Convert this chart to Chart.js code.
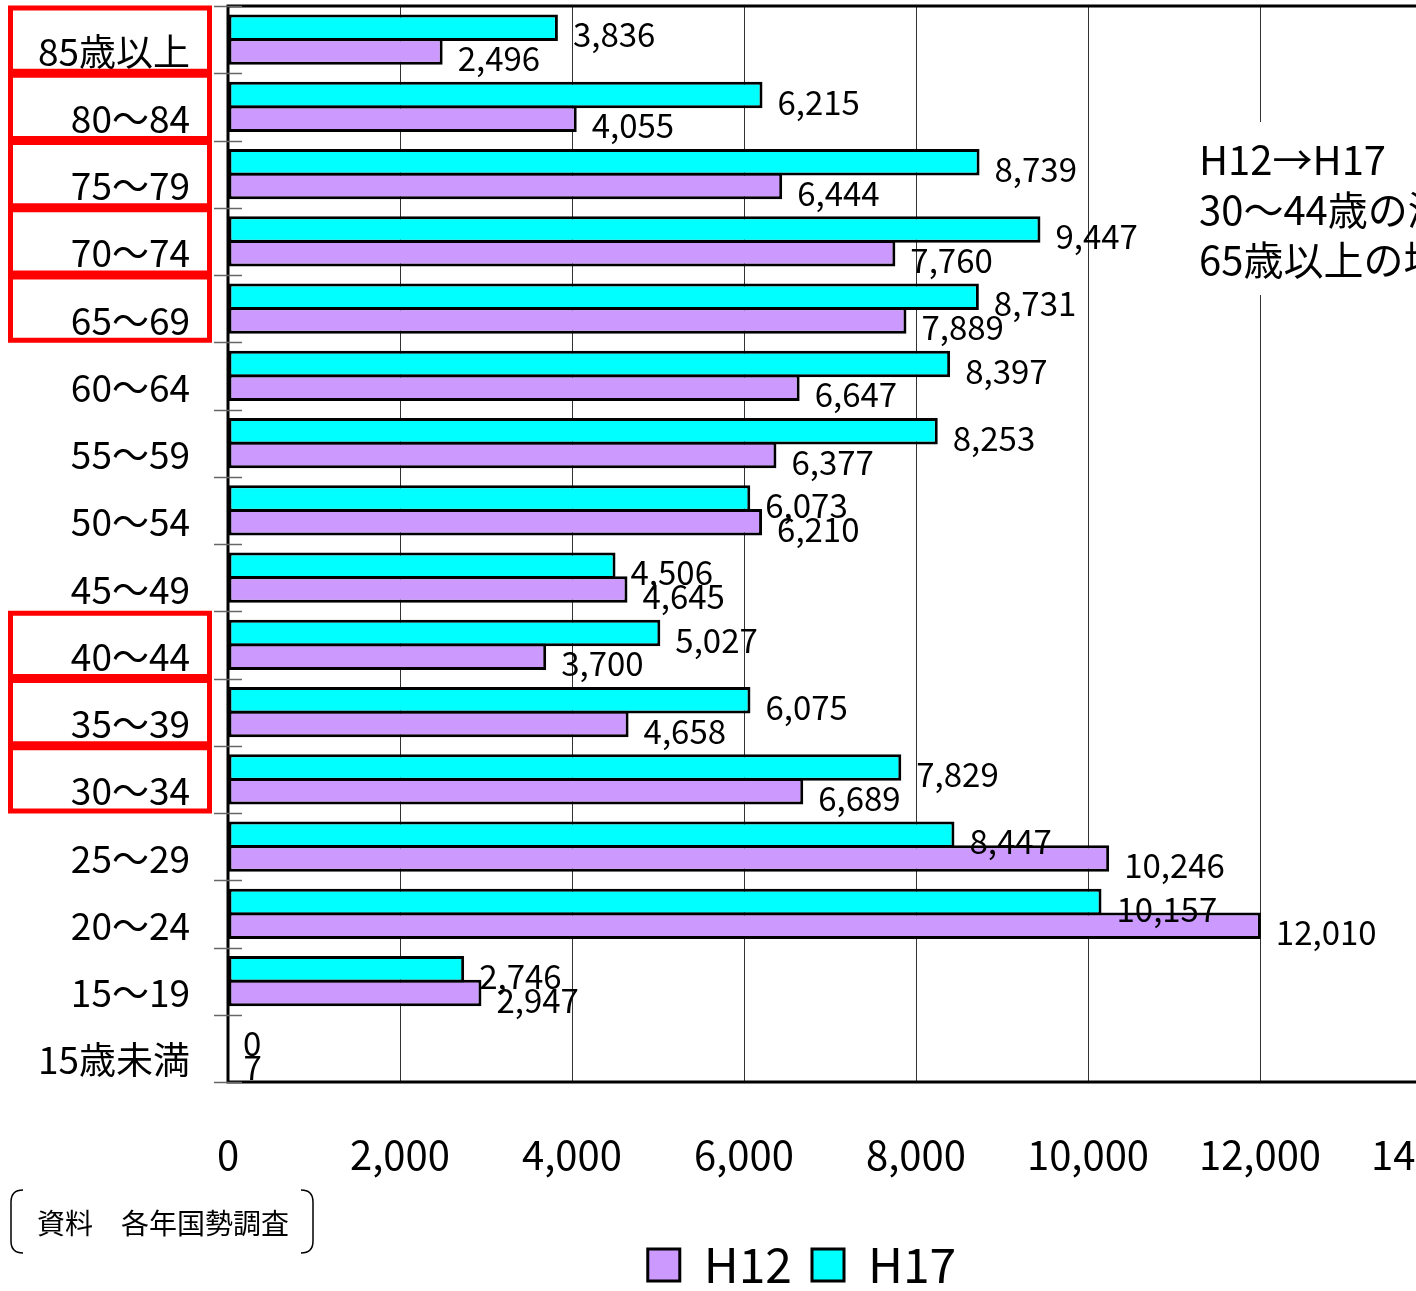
<!DOCTYPE html>
<html><head><meta charset="utf-8">
<script src="https://cdn.jsdelivr.net/npm/chart.js@4"></script>
<style>html,body{margin:0;padding:0;background:#fff;overflow:hidden;width:1416px;height:1291px}canvas{display:block}</style>
</head><body>
<canvas id="c" width="1674" height="1291"></canvas>
<script>
const categories = ['85歳以上','80〜84','75〜79','70〜74','65〜69','60〜64','55〜59','50〜54','45〜49','40〜44','35〜39','30〜34','25〜29','20〜24','15〜19','15歳未満'];
const h17Values = [3836,6215,8739,9447,8731,8397,8253,6073,4506,5027,6075,7829,8447,10157,2746,0];
const h12Values = [2496,4055,6444,7760,7889,6647,6377,6210,4645,3700,4658,6689,10246,12010,2947,7];
const highlighted = ['85歳以上','80〜84','75〜79','70〜74','65〜69','40〜44','35〜39','30〜34'];
const noteLines = ['H12→H17','30〜44歳の減少','65歳以上の増加'];
const sourceText = '資料　各年国勢調査';
const FONT = "'Noto Sans CJK JP','Noto Sans',sans-serif";

const decor = {
  id: 'decor',
  afterDatasetsDraw(chart) {
    const ctx = chart.ctx, ca = chart.chartArea, y = chart.scales.y;
    const half = Math.abs(y.getPixelForValue(1) - y.getPixelForValue(0)) / 2;
    ctx.save();
    // data labels
    ctx.font = '33px ' + FONT;
    ctx.fillStyle = '#000';
    ctx.textAlign = 'left';
    ctx.textBaseline = 'middle';
    chart.data.datasets.forEach((ds, di) => {
      const meta = chart.getDatasetMeta(di);
      meta.data.forEach((bar, i) => {
        ctx.fillText(ds.data[i].toLocaleString('en-US'), bar.x + 15, bar.y + 7);
      });
    });
    // border lines
    ctx.strokeStyle = '#000';
    ctx.lineWidth = 3;
    ctx.beginPath();
    ctx.moveTo(ca.right, ca.top); ctx.lineTo(ca.left, ca.top);
    ctx.lineTo(ca.left, ca.bottom); ctx.lineTo(ca.right, ca.bottom);
    ctx.stroke();
    // category tick marks
    ctx.strokeStyle = '#666';
    ctx.lineWidth = 1.5;
    for (let i = 0; i <= categories.length; i++) {
      const yy = Math.round(y.getPixelForValue(0) - half + i * 2 * half) + 0.5;
      ctx.beginPath(); ctx.moveTo(ca.left - 14, yy); ctx.lineTo(ca.left + 14, yy); ctx.stroke();
    }
    // red boxes
    ctx.strokeStyle = '#ff0000';
    ctx.lineWidth = 5;
    highlighted.forEach(lbl => {
      const i = categories.indexOf(lbl);
      const cy = y.getPixelForValue(i);
      ctx.strokeRect(10.5, cy - half + 2, 199, 2 * half - 4);
    });
    // note box
    ctx.fillStyle = '#fff';
    ctx.fillRect(1185, 122, 400, 173);
    ctx.fillStyle = '#000';
    ctx.font = '40px ' + FONT;
    ctx.textBaseline = 'middle';
    noteLines.forEach((t, k) => ctx.fillText(t, 1199, 160 + k * 50));
    // source box
    ctx.strokeStyle = '#000';
    ctx.lineWidth = 1.5;
    ctx.beginPath();
    ctx.moveTo(23, 1190); ctx.quadraticCurveTo(11, 1190, 11, 1202);
    ctx.lineTo(11, 1241); ctx.quadraticCurveTo(11, 1253, 23, 1253);
    ctx.moveTo(301, 1190); ctx.quadraticCurveTo(313, 1190, 313, 1202);
    ctx.lineTo(313, 1241); ctx.quadraticCurveTo(313, 1253, 301, 1253);
    ctx.stroke();
    ctx.font = '28px ' + FONT;
    ctx.fillText(sourceText, 37, 1223);
    ctx.restore();
  }
};

new Chart(document.getElementById('c'), {
  type: 'bar',
  data: {
    labels: categories,
    datasets: [
      { label: 'H17', data: h17Values, backgroundColor: '#00FFFF', borderColor: '#000',
        borderWidth: c => (c.raw < 100 ? 0 : 3), borderSkipped: false },
      { label: 'H12', data: h12Values, backgroundColor: '#CC99FF', borderColor: '#000',
        borderWidth: c => (c.raw < 100 ? 0 : 3), borderSkipped: false }
    ]
  },
  options: {
    indexAxis: 'y',
    responsive: false,
    animation: false,
    devicePixelRatio: 1,
    categoryPercentage: 0.705,
    barPercentage: 1.12,
    layout: { padding: { top: 6, right: 70, bottom: -8, left: 0 } },
    scales: {
      x: {
        min: 0, max: 16000,
        ticks: { stepSize: 2000, color: '#000', font: { size: 40, family: FONT }, padding: 49,
          maxRotation: 0, autoSkip: false,
          callback: v => (v === 16000 ? '' : Number(v).toLocaleString('en-US')) },
        grid: { color: '#333', lineWidth: 1, drawTicks: false },
        border: { display: false },
        afterFit: s => { s.height = 139; s.paddingLeft = 0; s.paddingRight = 0; }
      },
      y: {
        ticks: { color: '#000', font: { size: 37, family: FONT }, padding: 38, labelOffset: 12, autoSkip: false },
        grid: { display: false, drawTicks: false },
        border: { display: false },
        afterFit: s => { s.width = 228; s.paddingTop = 0; s.paddingBottom = 0; }
      }
    },
    plugins: {
      legend: {
        position: 'bottom',
        reverse: true,
        labels: { boxWidth: 32, boxHeight: 32, padding: 20, color: '#000', font: { size: 48, family: FONT } }
      },
      tooltip: { enabled: false }
    }
  },
  plugins: [decor]
});
</script>
</body></html>
